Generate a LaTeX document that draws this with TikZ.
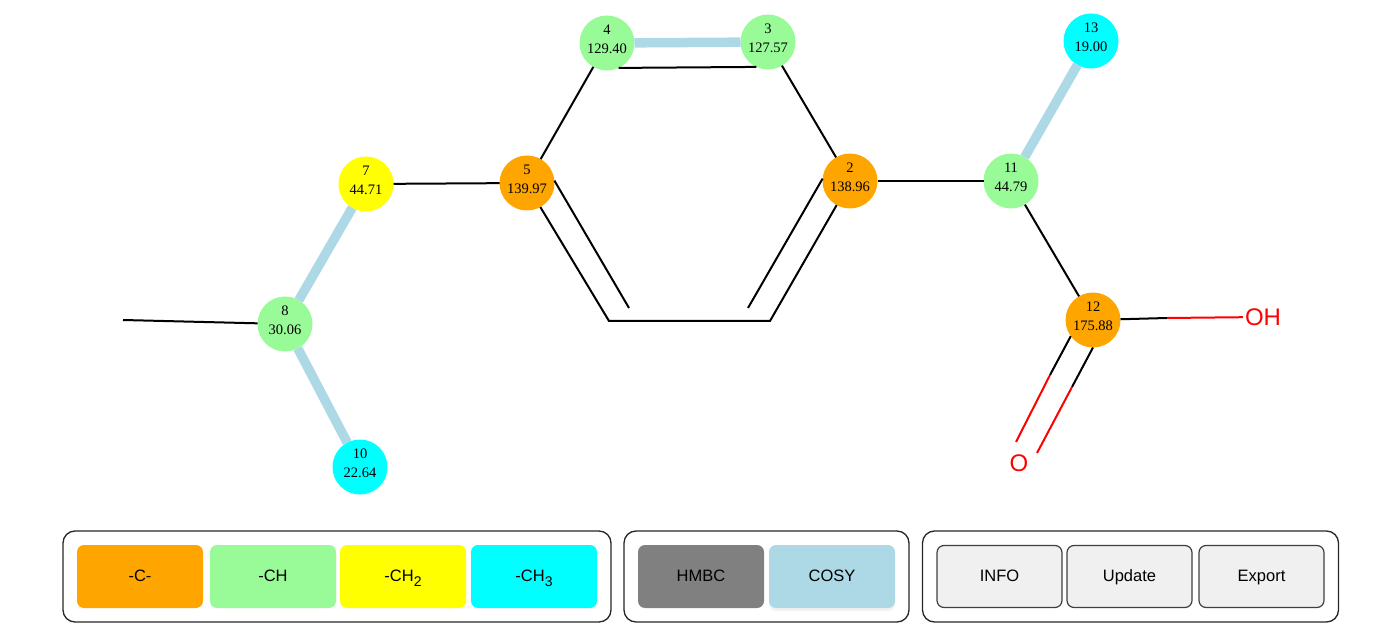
\documentclass[tikz,border=0pt]{standalone}
\usepackage{fontspec}
\setmainfont{Liberation Serif}
\setsansfont{Liberation Sans}
\usepackage{xcolor}
\usetikzlibrary{positioning,fit,shadows}

\definecolor{qC}{HTML}{FFA500}
\definecolor{qCH}{HTML}{98FB98}
\definecolor{qCHtwo}{HTML}{FFFF00}
\definecolor{qCHthree}{HTML}{00FFFF}
\definecolor{cosyblue}{HTML}{ADD8E6}
\definecolor{hmbcgray}{HTML}{808080}
\definecolor{btnfill}{HTML}{F0F0F0}
\newcommand{\subnum}[1]{\raisebox{-5pt}{\fontsize{14}{14}\selectfont #1}}

\begin{document}
\begin{tikzpicture}[x=1pt, y=-1pt, font=\sffamily\fontsize{16.5}{18}\selectfont]
  % ------- styles -------
  \tikzstyle{atom}=[circle, minimum size=55pt, inner sep=-4pt, outer sep=0pt, align=center, text depth=7.5pt, font=\rmfamily\fontsize{14.5}{19}\selectfont]
  \tikzstyle{bond}=[draw=black, line width=2pt]
  \tikzstyle{cosy}=[draw=cosyblue, line width=9.5pt]
  \tikzstyle{redbond}=[draw=red, line width=2pt]
  \tikzstyle{hetero}=[text=red, inner sep=2pt, font=\sffamily\fontsize{24}{26}\selectfont]
  \tikzstyle{tag}=[rounded corners=7pt, minimum width=126pt, minimum height=63pt, inner sep=0pt, outer sep=0pt, text height=12pt, text depth=3pt]
  \tikzstyle{btn}=[tag, draw=black!75, line width=1.2pt, fill=btnfill, minimum width=125pt, minimum height=62pt]
  \tikzstyle{groupbox}=[draw=black!85, line width=1.3pt, rounded corners=12pt, inner sep=14pt, text height=, text depth=]

  \useasboundingbox (0,0) rectangle (1379,644);

  % ------- atoms -------
  \node[atom, fill=qCH]      (n4)  at (607,43)  {4\\129.40};
  \node[atom, fill=qCH]      (n3)  at (768,42)  {3\\127.57};
  \node[atom, fill=qC]       (n5)  at (527,183) {5\\139.97};
  \node[atom, fill=qC]       (n2)  at (850,181) {2\\138.96};
  \node[atom, fill=qCHtwo]   (n7)  at (366,184) {7\\44.71};
  \node[atom, fill=qCH]      (n8)  at (285,324) {8\\30.06};
  \node[atom, fill=qCHthree] (n10) at (360,467) {10\\22.64};
  \node[atom, fill=qCH]      (n11) at (1011,181) {11\\44.79};
  \node[atom, fill=qC]       (n12) at (1093,320) {12\\175.88};
  \node[atom, fill=qCHthree] (n13) at (1091,41) {13\\19.00};
  \node[hetero] (oh) at (1263,317) {OH};
  \node[hetero] (ox) at (1019,463) {O};

  % free ends
  \coordinate (c1) at (609,321);
  \coordinate (c6) at (770,321);
  \coordinate (c1in) at (629,308);
  \coordinate (c6in) at (748,308);
  \coordinate (me) at (123,320);
  \coordinate (ohmid) at (1167,318);
  \coordinate (oamid) at (1050,375);
  \coordinate (oaend) at (1016,442);
  \coordinate (obmid) at (1072,387);
  \coordinate (obend) at (1037,453);

  % ------- bonds -------
  \draw[cosy] (n4) -- (n3);
  \draw[cosy] (n11) -- (n13);
  \draw[cosy] (n7) -- (n8);
  \draw[cosy] (n8) -- (n10);
  \draw[bond] (n4.295) -- (n3.245);
  \draw[bond] (n5) -- (n4);
  \draw[bond] (n3) -- (n2);
  \draw[bond] (n7) -- (n5);
  \draw[bond] (n2) -- (n11);
  \draw[bond] (n11) -- (n12);
  \draw[bond] (me) -- (n8);
  \draw[bond, line join=miter] (n5.299) -- (c1) -- (c6) -- (n2.241);
  \draw[bond] (n5.5) -- (c1in);
  \draw[bond] (n2.175) -- (c6in);

  % carboxyl
  \draw[bond] (n12) -- (ohmid);
  \draw[redbond] (ohmid) -- (oh);
  \draw[bond] (n12.216) -- (oamid);
  \draw[redbond] (oamid) -- (oaend);
  \draw[bond] (n12.270) -- (obmid);
  \draw[redbond] (obmid) -- (obend);

  % ------- legend -------
  \node[tag, fill=qC] (tagc) at (140,576.5) {-C-};
  \node[tag, fill=qCH, right=7pt of tagc] (tagch) {-CH};
  \node[tag, fill=qCHtwo, right=4pt of tagch] (tagchtwo) {-CH\subnum{2}};
  \node[tag, fill=qCHthree, right=5pt of tagchtwo] (tagchthree) {-CH\subnum{3}};

  \node[tag, fill=hmbcgray] (hmbc) at (701,576.5) {HMBC};
  \node[tag, fill=cosyblue, right=5pt of hmbc, drop shadow={opacity=0.1, shadow xshift=0pt, shadow yshift=-3pt}] (cosybtn) {COSY};

  \node[btn] (info) at (999.5,576.5) {INFO};
  \node[btn, right=5pt of info] (update) {Update};
  \node[btn, right=7pt of update] (export) {Export};

  % group boxes
  \node[groupbox, fit=(tagc)(tagchthree)] (g1) {};
  \node[groupbox, fit=(hmbc)(cosybtn)] (g2) {};
  \node[groupbox, inner sep=14.5pt, fit=(info)(export)] (g3) {};
\end{tikzpicture}
\end{document}
